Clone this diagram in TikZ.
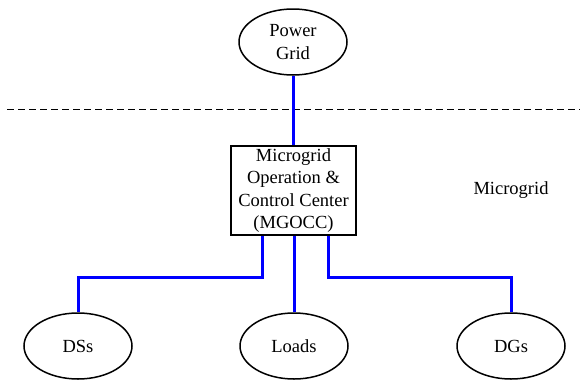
\documentclass[tikz,border=0pt]{standalone}
\usepackage{fontspec}
\setmainfont{Liberation Serif}
\usetikzlibrary{shapes.geometric}
\begin{document}
\begin{tikzpicture}[x=1pt,y=-1pt,
  every node/.style={font=\fontsize{18.5}{22.5}\selectfont, align=center},
  oval/.style={ellipse, draw, line width=1.5pt, minimum width=108pt, minimum height=66pt, inner sep=0pt},
  ctrlbox/.style={rectangle, draw, line width=1.5pt, minimum width=125pt, minimum height=89pt, inner sep=0pt},
  link/.style={draw=blue, line width=3pt}]
\useasboundingbox (0,0) rectangle (580,383);
\node[oval] (pg) at (293,42) {Power\\Grid};
\node[ctrlbox] (mg) at (293.5,190.5) {Microgrid\\Operation \&\\Control Center\\(MGOCC)};
\node[oval] (ds) at (78,346) {DSs};
\node[oval] (ld) at (294,346) {Loads};
\node[oval] (dg) at (511,346) {DGs};
\node (lbl) at (511,190) {Microgrid};
\coordinate (dl) at (7,109);
\coordinate (dr) at (580,109);
\draw[dashed, dash pattern=on 7pt off 4pt, line width=0.9pt] (dl) -- (dr);
\draw[link] (pg.south) -- (pg.south |- mg.north);
\draw[link] (mg.south -| ld.north) -- (ld.north);
\draw[link] ([xshift=-31.5pt]mg.south) |- (78,277) -- (ds.north);
\draw[link] ([xshift=34.5pt]mg.south) |- (511,277) -- (dg.north);
\end{tikzpicture}
\end{document}
